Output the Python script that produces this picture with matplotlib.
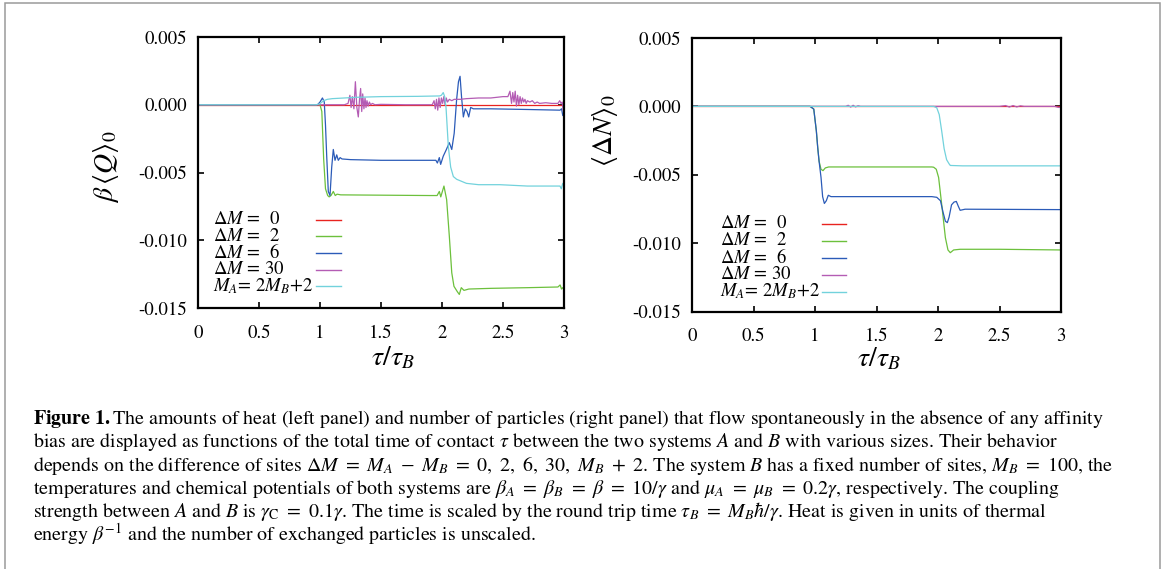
import matplotlib
matplotlib.use('Agg')
import matplotlib.pyplot as plt
from matplotlib.patches import Rectangle
from matplotlib.ticker import MultipleLocator, FormatStrFormatter

plt.rcParams['font.family'] = 'STIXGeneral'
plt.rcParams['mathtext.fontset'] = 'stix'
plt.rcParams['axes.unicode_minus'] = False

######## series labels and colours ########
labels = [r'$\mathit{ΔM}$ =  0', r'$\mathit{ΔM}$ =  2', r'$\mathit{ΔM}$ =  6',
          r'$\mathit{ΔM}$ = 30', r'$M_A$= 2$M_B$+2']
colors = ['#e8231f', '#6cc03c', '#2b5bb8', '#b45cb4', '#72d2dc']

######## left panel: beta <Q>_0 vs tau/tau_B ########
tau_q0 = [0.0, 3.0]
q0 = [0.0, 0.0]

tau_q2 = [0.0, 1.0, 1.015, 1.03, 1.045, 1.063, 1.075, 1.09, 1.109, 1.125, 1.14, 1.17, 1.3, 1.6,
          1.9, 1.96, 1.978, 1.99, 2.016, 2.038, 2.06, 2.08, 2.098, 2.126, 2.142, 2.158, 2.18,
          2.22, 2.4, 2.7, 2.95, 2.968, 2.98, 2.99, 3.0]
q2 = [0.0, 0.0, -0.0005, -0.004, -0.0062, -0.0067, -0.0068, -0.0067, -0.0064, -0.0067, -0.0066,
      -0.00665, -0.00666, -0.00668, -0.0067, -0.0067, -0.0064, -0.0068, -0.0060, -0.0070,
      -0.0097, -0.0124, -0.0134, -0.0138, -0.0140, -0.0135, -0.0137, -0.0136, -0.01355,
      -0.0135, -0.01345, -0.0133, -0.0136, -0.0135, -0.0136]

tau_q6 = [0.0, 0.98, 1.0, 1.02, 1.035, 1.045, 1.055, 1.068, 1.082, 1.096, 1.109, 1.123, 1.137,
          1.15, 1.165, 1.18, 1.25, 1.5, 1.8, 1.95, 1.962, 1.978, 1.989, 2.01, 2.036, 2.06,
          2.08, 2.1, 2.12, 2.135, 2.148, 2.16, 2.175, 2.19, 2.205, 2.219, 2.235, 2.257, 2.4,
          2.7, 2.967, 2.98, 2.99, 3.0]
q6 = [0.0, 0.0, 0.0002, 0.0005, 0.0002, -0.0015, -0.0038, -0.0064, -0.0067, -0.0046, -0.0033,
      -0.0041, -0.0037, -0.0041, -0.0039, -0.0040, -0.00405, -0.0041, -0.0041, -0.0041,
      -0.0043, -0.0039, -0.0044, -0.0038, -0.0033, -0.0028, -0.0033, -0.0021, 0.0004,
      0.0017, 0.0021, 0.0006, -0.0009, -0.0003, -0.0005, -0.0009, -0.0002, -0.0003, -0.0003,
      -0.00035, -0.0004, -0.0003, -0.0008, -0.0006]

tau_q30 = [0.0, 1.2, 1.23, 1.245, 1.255, 1.265, 1.278, 1.29, 1.302, 1.314, 1.324, 1.333, 1.342,
           1.35, 1.36, 1.369, 1.377, 1.385, 1.395, 1.405, 1.415, 1.43, 1.45, 1.5, 1.7, 1.92,
           1.935, 1.945, 1.955, 1.965, 1.975, 1.985, 1.995, 2.005, 2.015, 2.025, 2.035, 2.045,
           2.06, 2.08, 2.1, 2.15, 2.2, 2.3, 2.4, 2.5, 2.54, 2.557, 2.57, 2.58, 2.59, 2.6, 2.61,
           2.62, 2.63, 2.64, 2.65, 2.66, 2.67, 2.68, 2.69, 2.7, 2.72, 2.74, 2.76, 2.78, 2.8,
           2.85, 2.9, 2.95, 2.965, 2.975, 2.985, 2.993, 3.0]
q30 = [0.0, 0.0, 0.0001, 0.0007, -0.0002, 0.0006, -0.0003, 0.0017, -0.0002, -0.0009, 0.0004,
       0.0012, -0.0005, 0.0008, -0.0003, 0.0005, -0.0002, 0.0003, -0.0001, 0.0002, 0.0, 0.0001,
       0.0, 0.00003, 0.0, 0.0, 0.0003, -0.0003, 0.0004, -0.0004, 0.0005, -0.0002, 0.0005,
       0.0001, 0.0006, 0.0, 0.0005, 0.0002, 0.0004, 0.0003, 0.0004, 0.0004, 0.00045, 0.0005,
       0.0005, 0.0006, 0.0006, 0.001, 0.0001, 0.0009, 0.0002, 0.001, -0.0001, 0.0007, 0.0,
       0.0006, 0.0001, 0.0005, 0.0002, 0.0004, 0.0001, 0.0003, 0.0002, 0.0003, 0.0001, 0.0002,
       0.0001, 0.00015, 0.0001, 0.0001, 0.0003, 0.0001, 0.0002, -0.0004, -0.0005]

tau_qA = [0.0, 0.97, 1.0, 1.03, 1.06, 1.1, 1.2, 1.3, 1.5, 1.8, 1.98, 1.995, 2.01, 2.022, 2.033,
          2.052, 2.071, 2.093, 2.12, 2.2, 2.3, 2.475, 2.7, 2.95, 2.967, 2.978, 2.99, 3.0]
qA = [0.0, 0.0, 0.00008, 0.0003, 0.0004, 0.00045, 0.0005, 0.00055, 0.0006, 0.00062, 0.00065,
      0.0007, 0.0009, 0.0006, -0.0002, -0.0031, -0.0046, -0.0053, -0.0055, -0.0058, -0.0059,
      -0.0059, -0.006, -0.006, -0.006, -0.0062, -0.0058, -0.0059]

######## right panel: <Delta N>_0 vs tau/tau_B ########
tau_n0 = [0.0, 3.0]
n0 = [0.0, 0.0]

tau_n2 = [0.0, 0.96, 0.99, 1.011, 1.022, 1.033, 1.049, 1.065, 1.084, 1.111, 1.3, 1.6, 1.95,
          1.965, 1.986, 2.005, 2.033, 2.06, 2.081, 2.1, 2.127, 2.18, 2.5, 3.0]
n2 = [0.0, 0.0, -0.0002, -0.0018, -0.003, -0.004, -0.0046, -0.0047, -0.0045, -0.00443,
      -0.00443, -0.00443, -0.00443, -0.00445, -0.0046, -0.0052, -0.0074, -0.0096, -0.0105,
      -0.0107, -0.0105, -0.01045, -0.01045, -0.0105]

tau_n6 = [0.0, 0.96, 0.99, 1.011, 1.022, 1.033, 1.049, 1.062, 1.076, 1.092, 1.108, 1.13, 1.15,
          1.3, 1.6, 1.95, 1.99, 2.02, 2.04, 2.06, 2.076, 2.09, 2.11, 2.13, 2.149, 2.165, 2.18,
          2.22, 2.5, 3.0]
n6 = [0.0, 0.0, -0.0002, -0.0018, -0.003, -0.004, -0.0052, -0.0066, -0.0071, -0.0069, -0.0065,
      -0.0066, -0.0066, -0.0066, -0.0066, -0.0066, -0.00665, -0.0069, -0.0077, -0.0084, -0.0085,
      -0.0081, -0.0072, -0.0070, -0.00695, -0.0073, -0.0076, -0.00752, -0.00753, -0.00755]

tau_n30 = [0.0, 1.25, 1.27, 1.29, 1.31, 1.33, 1.35, 1.37, 1.5, 2.5, 2.55, 2.58, 2.61, 2.64,
           2.67, 2.7, 2.95, 2.98, 3.0]
n30 = [0.0, 0.0, 0.00008, -0.00005, 0.00008, -0.00004, 0.00005, 0.0, 0.0, 0.0, 0.00006,
       -0.00005, 0.00006, -0.00004, 0.00004, 0.0, 0.0, -0.00008, -0.00004]

tau_nA = [0.0, 1.965, 1.99, 2.01, 2.03, 2.05, 2.07, 2.09, 2.1, 2.2, 3.0]
nA = [0.0, 0.0, -0.0001, -0.0006, -0.0018, -0.0031, -0.0039, -0.0042, -0.00432, -0.00435,
      -0.00435]

q_series = [(tau_q0, q0), (tau_q2, q2), (tau_q6, q6), (tau_q30, q30), (tau_qA, qA)]
n_series = [(tau_n0, n0), (tau_n2, n2), (tau_n6, n6), (tau_n30, n30), (tau_nA, nA)]

caption = [
    r"$\mathbf{Figure\ 1.}$The amounts of heat (left panel) and number of particles (right panel) that flow spontaneously in the absence of any affinity",
    r"bias are displayed as functions of the total time of contact $\tau$ between the two systems $A$ and $B$ with various sizes. Their behavior",
    r"depends on the difference of sites $\Delta M\ =\ M_A\ -\ M_B\ =\ 0,\ 2,\ 6,\ 30,\ M_B\ +\ 2$. The system $B$ has a fixed number of sites, $M_B\ =$ 100, the",
    r"temperatures and chemical potentials of both systems are $\beta_A\ =\ \beta_B\ =\ \beta\ =\ 10/\gamma$ and $\mu_A\ =\ \mu_B\ =\ 0.2\gamma$, respectively. The coupling",
    r"strength between $A$ and $B$ is $\gamma_\mathrm{C}\ =\ 0.1\gamma$. The time is scaled by the round trip time $\tau_B\ =\ M_B\hbar/\gamma$. Heat is given in units of thermal",
    r"energy $\beta^{-1}$ and the number of exchanged particles is unscaled.",
]

W, H = 1168, 569
fig = plt.figure(figsize=(W / 100, H / 100), dpi=100)

# grey frame around the figure + caption
fig.add_artist(Rectangle((5 / W, -0.05), 1155 / W, 1.05 - 3 / H, transform=fig.transFigure,
                         fill=False, edgecolor='#9a9a9a', linewidth=1.1))

axL = fig.add_axes([198 / W, 1 - 308 / H, 366 / W, 271 / H])
axR = fig.add_axes([692 / W, 1 - 311.5 / H, 369 / W, 273.5 / H])


def draw_key(ax, xt, xl0, xl1, y0, dy):
    for i in range(len(labels)):
        y = y0 - i * dy
        ax.text(xt, y, labels[i], transform=ax.transAxes, fontsize=13.5, va='center', ha='left')
        ax.plot([xl0, xl1], [y, y], transform=ax.transAxes, color=colors[i], lw=1.0,
                clip_on=False)


for ax, series in [(axL, q_series), (axR, n_series)]:
    for i, (t, v) in enumerate(series):
        ax.plot(t, v, color=colors[i], lw=0.9)
    ax.set_xlim(0, 3)
    ax.set_ylim(-0.015, 0.005)
    ax.xaxis.set_major_locator(MultipleLocator(0.5))
    ax.yaxis.set_major_locator(MultipleLocator(0.005))
    ax.xaxis.set_major_formatter(FormatStrFormatter('%g'))
    ax.yaxis.set_major_formatter(FormatStrFormatter('%.3f'))
    ax.tick_params(direction='in', top=True, right=True, length=4, width=1.2, labelsize=13.5)
    ax.tick_params(axis='x', pad=12)
    ax.tick_params(axis='y', pad=8)
    for s in ax.spines.values():
        s.set_linewidth(1.6)
    ax.set_xlabel(r'$\tau/\tau_B$', fontsize=20)

axL.set_ylabel(r'$\beta\,\langle Q\rangle_0$', fontsize=20)
axL.yaxis.set_label_coords(-0.21, 0.52)
axL.xaxis.set_label_coords(0.533, -0.135)
axR.set_ylabel(r'$\langle \Delta N\rangle_0$', fontsize=20)
axR.yaxis.set_label_coords(-0.195, 0.66)
axR.xaxis.set_label_coords(0.507, -0.125)

draw_key(axL, 0.041, 0.322, 0.391, 0.325, 0.061)
draw_key(axR, 0.076, 0.352, 0.417, 0.321, 0.062)

# caption lines
for k, line in enumerate(caption):
    fig.text(33 / W, 1 - (424 + 23.3 * k) / H, line, fontsize=14.4, ha='left', va='baseline')

fig.savefig('out.png', dpi=100)
